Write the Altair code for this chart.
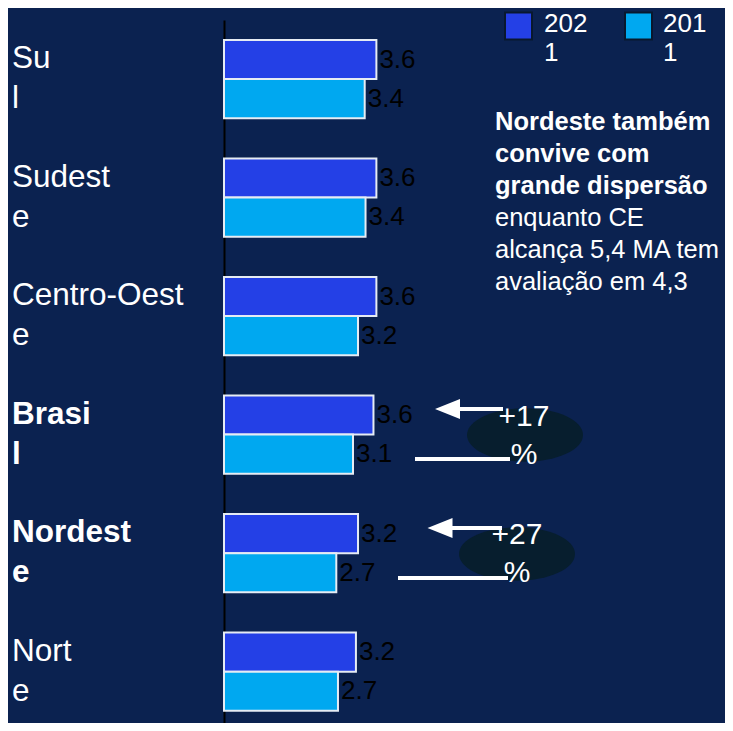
import altair as alt
import pandas as pd

FONT = "Liberation Sans"

# ---- data ----
regions = ["Sul", "Sudeste", "Centro-Oeste", "Brasil", "Nordeste", "Norte"]
region_labels = ["Su\nl", "Sudest\ne", "Centro-Oest\ne", "Brasi\nl", "Nordest\ne", "Nort\ne"]
bold_regions = ["Brasil", "Nordeste"]
values_2021 = [3.65, 3.65, 3.65, 3.58, 3.21, 3.16]
values_2011 = [3.37, 3.39, 3.21, 3.09, 2.69, 2.73]
years = ["2021", "2011"]
year_colors = ["#2440e6", "#00a8f0"]
legend_labels = ["202\n1", "201\n1"]
growth_labels = ["+17\n%", "+27\n%"]
note_bold = "Nordeste também\nconvive com\ngrande dispersão"
note_regular = "enquanto CE\nalcança 5,4 MA tem\navaliação em 4,3"

BG = "#0b2250"

rows = []
for r, a, b in zip(regions, values_2021, values_2011):
    rows.append({"region": r, "year": "2021", "value": a})
    rows.append({"region": r, "year": "2011", "value": b})
df = pd.DataFrame(rows)

cat_df = pd.DataFrame({
    "region": regions,
    "label": region_labels,
    "bold": [r in bold_regions for r in regions],
})

y_enc = alt.Y(
    "region:N", sort=regions,
    scale=alt.Scale(paddingInner=0.34, paddingOuter=0.136, align=0.62),
    axis=alt.Axis(labels=False, ticks=False, title=None, grid=False,
                  domainColor="black", domainWidth=2),
)
x_enc = alt.X("value:Q", scale=alt.Scale(domain=[0, 11.8]), axis=None)
yoff = alt.YOffset("year:N", sort=years)
color_enc = alt.Color("year:N", scale=alt.Scale(domain=years, range=year_colors), legend=None)

bars = alt.Chart(df).mark_bar(stroke="#e6ecf4", strokeWidth=2).encode(
    x=x_enc, y=y_enc, yOffset=yoff, color=color_enc
)

value_text = alt.Chart(df).mark_text(
    align="left", baseline="middle", dx=3, fontSize=26, color="black", font=FONT
).encode(
    x=alt.X("value:Q"), y=alt.Y("region:N", sort=regions), yOffset=yoff,
    text=alt.Text("value:Q", format=".1f"),
)

layers = [bars, value_text]
for flag, weight in ((True, "bold"), (False, "normal")):
    layers.append(alt.Chart(cat_df).transform_filter(
        "datum.bold" if flag else "!datum.bold"
    ).mark_text(
        align="left", baseline="middle", lineBreak="\n", lineHeight=40, dy=-20,
        fontSize=31.5, fontWeight=weight, color="white", font=FONT
    ).encode(
        x=alt.value(-212),
        y=alt.Y("region:N", sort=regions),
        text="label:N",
    ))

dummy = pd.DataFrame({"a": [0]})

# legend
leg_sq_x = [294.5, 414.5]
leg_tx_x = [320, 439]
for yr, col, lab, sx, tx in zip(years, year_colors, legend_labels, leg_sq_x, leg_tx_x):
    layers.append(alt.Chart(dummy).mark_point(
        shape="square", filled=True, size=729, color=col, opacity=1,
        stroke="#08182f", strokeWidth=2
    ).encode(x=alt.value(sx), y=alt.value(6)))
    layers.append(alt.Chart(pd.DataFrame({"t": [lab]})).mark_text(
        align="left", baseline="middle", lineBreak="\n", lineHeight=29,
        fontSize=26, color="white", font=FONT
    ).encode(x=alt.value(tx), y=alt.value(4), text="t:N"))

# annotation notes
layers.append(alt.Chart(pd.DataFrame({"t": [note_bold]})).mark_text(
    align="left", baseline="middle", lineBreak="\n", lineHeight=32,
    fontSize=25.5, fontWeight="bold", color="white", font=FONT
).encode(x=alt.value(271), y=alt.value(102), text="t:N"))
layers.append(alt.Chart(pd.DataFrame({"t": [note_regular]})).mark_text(
    align="left", baseline="middle", lineBreak="\n", lineHeight=32,
    fontSize=25.5, color="white", font=FONT
).encode(x=alt.value(271), y=alt.value(198), text="t:N"))

# growth callouts
ellipse = "M -1 0 A 1 0.46 0 1 0 1 0 A 1 0.46 0 1 0 -1 0 Z"
arrow = "M -1 0 L 1 -0.8 L 1 0.8 Z"
callouts = [
    dict(ex=301, ey=415, ax=223.5, ay=389, u=(231, 279, 389), l=(191, 286, 439), tx=300, ty=397),
    dict(ex=293, ey=534, ax=216, ay=508, u=(226, 278, 508), l=(174, 284, 558), tx=293, ty=515),
]
for c, g in zip(callouts, growth_labels):
    layers.append(alt.Chart(dummy).mark_point(
        shape=ellipse, filled=True, size=13456, color="#071e2e", opacity=1
    ).encode(x=alt.value(c["ex"]), y=alt.value(c["ey"])))
    for (x1, x2, yy) in (c["u"], c["l"]):
        layers.append(alt.Chart(dummy).mark_rule(color="white", strokeWidth=4).encode(
            x=alt.value(x1), x2=alt.value(x2), y=alt.value(yy)))
    layers.append(alt.Chart(dummy).mark_point(
        shape=arrow, filled=True, size=625, color="white", opacity=1
    ).encode(x=alt.value(c["ax"]), y=alt.value(c["ay"])))
    layers.append(alt.Chart(pd.DataFrame({"t": [g]})).mark_text(
        align="center", baseline="middle", lineBreak="\n", lineHeight=38,
        fontSize=30, color="white", font=FONT
    ).encode(x=alt.value(c["tx"]), y=alt.value(c["ty"]), text="t:N"))

chart = alt.layer(*layers).properties(
    width=501, height=703,
    autosize=alt.AutoSizeParams(type="none"),
    padding={"left": 216, "top": 12, "right": 0, "bottom": 0},
).configure(background=BG).configure_view(stroke=None)

chart.save("out.html", embed_options={"renderer": "svg", "actions": False})
